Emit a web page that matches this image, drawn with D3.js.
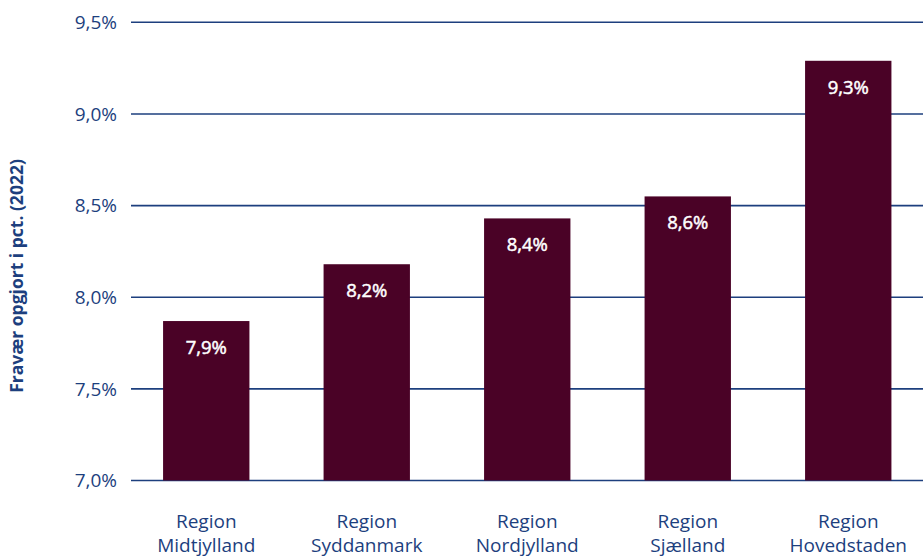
<!DOCTYPE html>
<html>
<head>
<meta charset="utf-8">
<script src="https://cdn.jsdelivr.net/npm/d3@7"></script>
<style>
  body { margin: 0; background: #fff; }
  svg { display: block; font-family: "Open Sans", "Noto Sans", sans-serif; }
</style>
</head>
<body>
<div id="chart-area"></div>
<script>
// data
var regions = [["Region", "Midtjylland"], ["Region", "Syddanmark"], ["Region", "Nordjylland"], ["Region", "Sjælland"], ["Region", "Hovedstaden"]];
var fravaer = [7.87, 8.18, 8.43, 8.55, 9.29];
var yTicks = [7.0, 7.5, 8.0, 8.5, 9.0, 9.5];

var W = 923, H = 558;
var blue = "#1d3f7e", barColor = "#4a0226";

var svg = d3.select("#chart-area")
    .append("svg")
        .attr("width", W)
        .attr("height", H);

// scales
var xScale = d3.scaleBand()
    .domain(d3.range(regions.length))
    .range([126, 928.5])
    .paddingInner(0.462)
    .paddingOuter(0.231);
var yScale = d3.scaleLinear()
    .domain([7.0, 9.5])
    .range([480.5, 22.3]);

var fmt = function(v) { return d3.format(".1f")(v).replace(".", ",") + "%"; };

// gridlines
svg.append("g").selectAll("line")
    .data(yTicks)
    .enter().append("line")
        .attr("x1", 131)
        .attr("x2", W)
        .attr("y1", function(d) { return yScale(d); })
        .attr("y2", function(d) { return yScale(d); })
        .attr("stroke", blue)
        .attr("stroke-width", 1.6);

// y tick labels
svg.append("g").selectAll("text")
    .data(yTicks)
    .enter().append("text")
        .attr("x", 117)
        .attr("y", function(d) { return yScale(d); })
        .attr("dy", "0.35em")
        .attr("text-anchor", "end")
        .attr("font-size", "19px")
        .attr("fill", blue)
        .text(fmt);

// y title
svg.append("text")
    .attr("transform", "translate(23,276) rotate(-90)")
    .attr("text-anchor", "middle")
    .attr("font-size", "17.5px")
    .attr("font-weight", "bold")
    .attr("fill", blue)
    .text("Fravær opgjort i pct. (2022)");

// bars
svg.append("g").selectAll("rect")
    .data(fravaer)
    .enter().append("rect")
        .attr("x", function(d, i) { return xScale(i); })
        .attr("width", xScale.bandwidth())
        .attr("y", function(d) { return yScale(d); })
        .attr("height", function(d) { return yScale(7.0) - yScale(d); })
        .attr("fill", barColor);

// value labels
svg.append("g").selectAll("text")
    .data(fravaer)
    .enter().append("text")
        .attr("x", function(d, i) { return xScale(i) + xScale.bandwidth() / 2; })
        .attr("y", function(d) { return yScale(d) + 33; })
        .attr("text-anchor", "middle")
        .attr("font-size", "18.5px")
        .attr("fill", "#fff")
        .attr("stroke", "#fff")
        .attr("stroke-width", 0.5)
        .text(fmt);

// x labels
var xl = svg.append("g").selectAll("text")
    .data(regions)
    .enter().append("text")
        .attr("x", function(d, i) { return xScale(i) + xScale.bandwidth() / 2; })
        .attr("y", 528)
        .attr("text-anchor", "middle")
        .attr("font-size", "19px")
        .attr("fill", blue);
xl.selectAll("tspan")
    .data(function(d) { return d; })
    .enter().append("tspan")
        .attr("x", function() { return d3.select(this.parentNode).attr("x"); })
        .attr("dy", function(d, j) { return j === 0 ? 0 : 24; })
        .text(function(d) { return d; });
</script>
</body>
</html>
